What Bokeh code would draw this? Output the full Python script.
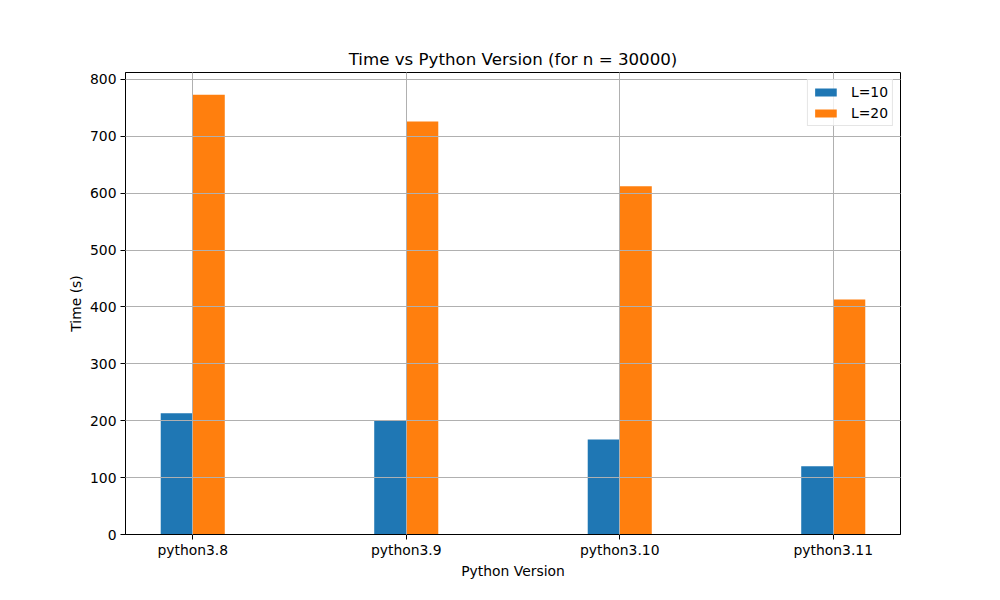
from bokeh.plotting import figure
from bokeh.models import ColumnDataSource, FixedTicker, Range1d, Legend, LegendItem
from bokeh.transform import dodge
from bokeh.embed import file_html
from bokeh.resources import INLINE

categories = ["python3.8", "python3.9", "python3.10", "python3.11"]
l10 = [213, 200, 167, 120]
l20 = [773, 726, 612, 413]
y_ticks = [0, 100, 200, 300, 400, 500, 600, 700, 800]

FONT = "DejaVu Sans"
idx = list(range(len(categories)))
src = ColumnDataSource(dict(x=idx, l10=l10, l20=l20))

p = figure(width=1000, height=600, output_backend="svg", toolbar_location=None,
           x_range=Range1d(-0.315, 3.315), y_range=Range1d(0, 812),
           min_border_left=125, min_border_right=100, min_border_top=72, min_border_bottom=66,
           title="Time vs Python Version (for n = 30000)")

r1 = p.vbar(x=dodge("x", -0.075), top="l10", width=0.15, source=src,
            fill_color="#1f77b4", line_color=None)
r2 = p.vbar(x=dodge("x", 0.075), top="l20", width=0.15, source=src,
            fill_color="#ff7f0e", line_color=None)

p.title.align = "center"
p.title.text_font = FONT
p.title.text_font_size = "16.67px"
p.title.text_font_style = "normal"
p.title.text_color = "black"
p.title.standoff = 7

p.outline_line_color = "black"
p.outline_line_width = 1
p.outline_line_alpha = 1

p.xaxis.ticker = FixedTicker(ticks=idx)
p.xaxis.major_label_overrides = {i: c for i, c in zip(idx, categories)}
p.yaxis.ticker = FixedTicker(ticks=y_ticks)

for ax in (p.xaxis, p.yaxis):
    ax.axis_line_color = "black"
    ax.major_tick_line_color = "black"
    ax.major_tick_out = 5
    ax.major_tick_in = 0
    ax.minor_tick_line_color = None
    ax.major_label_text_font = FONT
    ax.major_label_text_font_size = "13.9px"
    ax.major_label_text_color = "black"
    ax.major_label_standoff = 4
    ax.axis_label_text_font = FONT
    ax.axis_label_text_font_size = "13.9px"
    ax.axis_label_text_font_style = "normal"
    ax.axis_label_text_color = "black"
    ax.axis_label_standoff = 3

p.xaxis.major_label_standoff = 2
p.xaxis.axis_label_standoff = 2

p.xaxis.axis_label = "Python Version"
p.yaxis.axis_label = "Time (s)"

for g in (p.xgrid, p.ygrid):
    g.grid_line_color = "#b0b0b0"
    g.grid_line_width = 1
    g.level = "guide"
p.xgrid.ticker = FixedTicker(ticks=idx)
p.ygrid.ticker = FixedTicker(ticks=y_ticks)

legend = Legend(items=[LegendItem(label="L=10", renderers=[r1]),
                       LegendItem(label="L=20", renderers=[r2])],
                location="top_right")
legend.label_text_font = FONT
legend.label_text_font_size = "13.9px"
legend.label_text_color = "black"
legend.glyph_width = 27
legend.glyph_height = 10
legend.label_standoff = 12
legend.spacing = 5
legend.padding = 4
legend.margin = 7
legend.label_height = 14
legend.border_line_color = "#cccccc"
legend.background_fill_alpha = 0.8
p.add_layout(legend)

open("out.html", "w").write(file_html(p, INLINE))
